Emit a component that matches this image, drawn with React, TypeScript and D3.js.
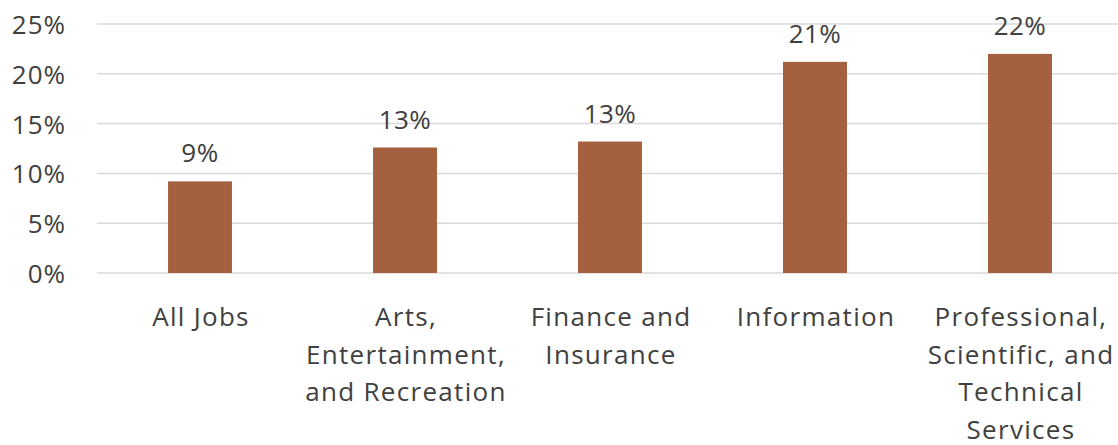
import React from "react";
import * as d3 from "d3";

const categories: string[][] = [
  ["All Jobs"],
  ["Arts,", "Entertainment,", "and Recreation"],
  ["Finance and", "Insurance"],
  ["Information"],
  ["Professional,", "Scientific, and", "Technical", "Services"],
];
const values: number[] = [9.2, 12.6, 13.2, 21.2, 22.0];
const valueLabels: string[] = ["9%", "13%", "13%", "21%", "22%"];
const yTicks: number[] = [0, 5, 10, 15, 20, 25];

const W = 1118;
const H = 445;
const FONT = "'Open Sans', sans-serif";
const TEXT = "#404040";

export default function App() {
  const keys = categories.map((_, i) => String(i));
  const x = d3
    .scaleBand<string>()
    .domain(keys)
    .range([97.5, 1122.5])
    .paddingInner(0.688)
    .paddingOuter(0.344);
  const y = d3.scaleLinear().domain([0, 25]).range([273, 24]);

  return (
    <svg
      width={W}
      height={H}
      style={{ position: "absolute", left: 0, top: 0, background: "#fff" }}
      fontFamily={FONT}
    >
      {yTicks.map((t) => (
        <g key={t}>
          <line x1={97} x2={W} y1={y(t)} y2={y(t)} stroke="#d9d9d9" strokeWidth={1.5} />
          <text
            x={66}
            y={y(t)}
            textAnchor="end"
            dominantBaseline="central"
            fontSize={26}
            letterSpacing={1}
            fill={TEXT}
          >
            {t}%
          </text>
        </g>
      ))}
      {values.map((v, i) => {
        const bx = x(keys[i])!;
        const bw = x.bandwidth();
        return (
          <g key={i}>
            <rect x={bx} y={y(v)} width={bw} height={y(0) - y(v)} fill="#A5603F" />
            <text
              x={bx + bw / 2}
              y={y(v) - 19}
              textAnchor="middle"
              fontSize={26}
              letterSpacing={0.5}
              fill={TEXT}
            >
              {valueLabels[i]}
            </text>
            {categories[i].map((line, j) => (
              <text
                key={j}
                x={bx + bw / 2 + 1}
                y={326 + j * 37.5}
                textAnchor="middle"
                fontSize={26}
                letterSpacing={1.3}
                fill={TEXT}
              >
                {line}
              </text>
            ))}
          </g>
        );
      })}
    </svg>
  );
}
